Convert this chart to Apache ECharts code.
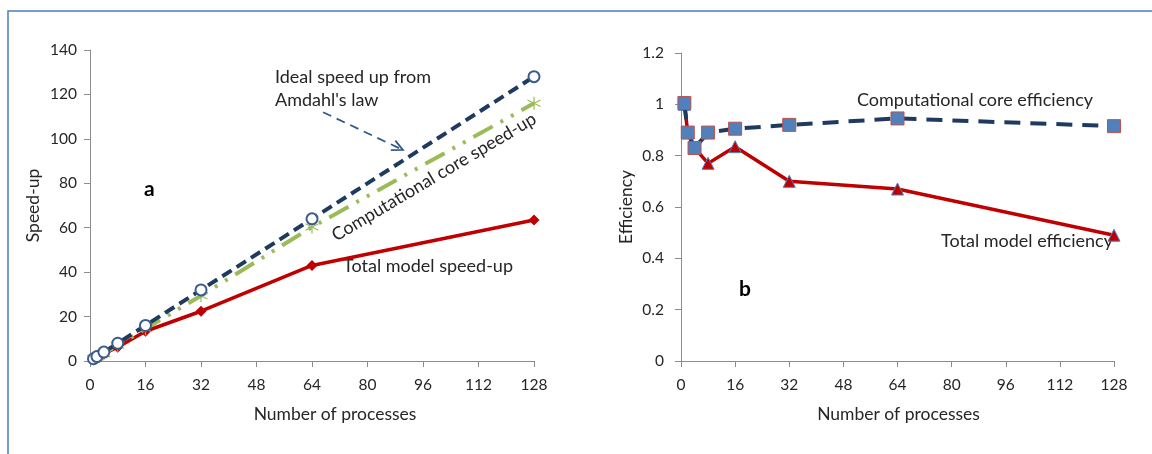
<!DOCTYPE html>
<html><head><meta charset="utf-8">
<script src="https://cdn.jsdelivr.net/npm/echarts@6/dist/echarts.min.js"></script>
<style>html,body{margin:0;padding:0;background:#fff}#c{width:1152px;height:454px}</style>
</head><body><div id="c"></div>
<script>
// ---- data ----
const processes = [1, 2, 4, 8, 16, 32, 64, 128];
const idealSpeedup = [1, 2, 4, 8, 16, 32, 64, 128];
const coreSpeedup = [1, 1.78, 3.32, 7.1, 14.5, 29.4, 60.3, 116];
const totalSpeedup = [1, 1.78, 3.3, 6.2, 13.4, 22.4, 43, 63.5];
const coreEfficiency = [1.005, 0.89, 0.83, 0.89, 0.905, 0.92, 0.945, 0.915];
const totalEfficiency = [1.0, 0.89, 0.83, 0.77, 0.835, 0.70, 0.67, 0.49];
const xTicks = [0, 16, 32, 48, 64, 80, 96, 112, 128];

const pair = (xs, ys) => xs.map((x, i) => [x, ys[i]]);
const FONT = 'Lato';
const axisCol = '#8c8c8c';
const txtCol = '#262626';
const navy = '#1f3a5f';
const red = '#c00000';
const green = '#9bbb59';
const blue = '#4f81bd';

const asterisk = 'path://M0,-10L0,10M-8.7,-5L8.7,5M-8.7,5L8.7,-5';

function xAxis(idx, shift) {
  return {
    gridIndex: idx, type: 'value', min: 0, max: 128, interval: 16,
    name: 'Number of processes', nameLocation: 'middle', nameGap: 44,
    nameTextStyle: {fontFamily: FONT, fontSize: 17.5, color: txtCol, padding: [0, 0, 0, shift]},
    axisLine: {lineStyle: {color: axisCol, width: 1}},
    axisTick: {show: true, length: 6, lineStyle: {color: axisCol}},
    axisLabel: {fontFamily: FONT, fontSize: 15.5, color: txtCol, margin: 16,
      formatter: v => xTicks.includes(v) ? String(v) : ''},
    splitLine: {show: false}
  };
}

const chart = echarts.init(document.getElementById('c'), null, {renderer: 'canvas'});
chart.setOption({
  animation: false,
  backgroundColor: '#fff',
  grid: [
    {left: 90, right: 618, top: 50, bottom: 93},
    {left: 681, right: 38, top: 53, bottom: 93}
  ],
  xAxis: [xAxis(0, 46), xAxis(1, 2)],
  yAxis: [
    {gridIndex: 0, type: 'value', min: 0, max: 140, interval: 20,
     name: 'Speed-up', nameLocation: 'middle', nameGap: 48,
     nameTextStyle: {fontFamily: FONT, fontSize: 17.5, color: txtCol},
     axisLine: {show: true, lineStyle: {color: axisCol}},
     axisTick: {show: true, length: 6, lineStyle: {color: axisCol}},
     axisLabel: {fontFamily: FONT, fontSize: 15.5, color: txtCol, margin: 13},
     splitLine: {show: false}},
    {gridIndex: 1, type: 'value', min: 0, max: 1.2, interval: 0.2,
     name: 'Efficiency', nameLocation: 'middle', nameGap: 46,
     nameTextStyle: {fontFamily: FONT, fontSize: 17.5, color: txtCol},
     axisLine: {show: true, lineStyle: {color: axisCol}},
     axisTick: {show: true, length: 6, lineStyle: {color: axisCol}},
     axisLabel: {fontFamily: FONT, fontSize: 15.5, color: txtCol, margin: 17,
       formatter: v => String(Math.round(v * 10) / 10)},
     splitLine: {show: false}}
  ],
  series: [
    {type: 'line', xAxisIndex: 0, yAxisIndex: 0, data: pair(processes, totalSpeedup),
     symbol: 'diamond', symbolSize: 11, z: 3,
     lineStyle: {color: red, width: 3.5}, itemStyle: {color: red}},
    {type: 'line', xAxisIndex: 0, yAxisIndex: 0, data: pair(processes, coreSpeedup),
     symbol: asterisk, symbolSize: 13, z: 4,
     lineStyle: {color: green, width: 4, type: [22, 9, 3, 9, 3, 9]},
     itemStyle: {color: 'rgba(0,0,0,0)', borderColor: green, borderWidth: 1.2}},
    {type: 'line', xAxisIndex: 0, yAxisIndex: 0, data: pair(processes, idealSpeedup),
     symbol: 'emptyCircle', symbolSize: 11, z: 5,
     lineStyle: {color: navy, width: 4, type: [11, 6]},
     itemStyle: {color: '#3b5b8c', borderColor: '#3b5b8c', borderWidth: 1}},
    {type: 'line', xAxisIndex: 1, yAxisIndex: 1, data: pair(processes, totalEfficiency),
     symbol: 'triangle', symbolSize: 12, z: 3,
     lineStyle: {color: red, width: 3.5},
     itemStyle: {color: red, borderColor: blue, borderWidth: 1}},
    {type: 'line', xAxisIndex: 1, yAxisIndex: 1, data: pair(processes, coreEfficiency),
     symbol: 'rect', symbolSize: 13, z: 4,
     lineStyle: {color: navy, width: 4, type: [16, 10]},
     itemStyle: {color: blue, borderColor: '#c0504d', borderWidth: 1}}
  ]
});

// annotations
const p1 = chart.convertToPixel({gridIndex: 0}, [67.2, 112]);
const p2 = chart.convertToPixel({gridIndex: 0}, [90.2, 95]);
const ang = Math.atan2(p2[1] - p1[1], p2[0] - p1[0]);
const ah = 12, aw = 0.45;
const arrowHead = [
  [p2[0] - ah * Math.cos(ang - aw), p2[1] - ah * Math.sin(ang - aw)],
  p2,
  [p2[0] - ah * Math.cos(ang + aw), p2[1] - ah * Math.sin(ang + aw)]
];
const tStyle = (s, extra) => Object.assign({fontFamily: FONT, fontSize: 18, fill: txtCol}, s, extra || {});

chart.setOption({
  graphic: [
    {type: 'rect', shape: {x: 8, y: 11, width: 1400, height: 600}, silent: true,
     style: {fill: 'none', stroke: '#4a7ebb', lineWidth: 1.5}},
    {type: 'line', shape: {x1: p1[0], y1: p1[1], x2: p2[0], y2: p2[1]},
     style: {stroke: '#2e5a8e', lineWidth: 1.8, lineDash: [9, 6]}},
    {type: 'polyline', shape: {points: arrowHead},
     style: {stroke: '#2e5a8e', lineWidth: 1.8, fill: 'none'}},
    {type: 'text', x: 275, y: 68, style: tStyle({text: 'Ideal speed up from'})},
    {type: 'text', x: 275, y: 91, style: tStyle({text: "Amdahl's law"})},
    {type: 'text', x: 434, y: 177, rotation: 0.535,
     style: tStyle({text: 'Computational core speed-up', align: 'center', verticalAlign: 'middle'})},
    {type: 'text', x: 343, y: 257, style: tStyle({text: 'Total model speed-up'})},
    {type: 'text', x: 144, y: 179, style: tStyle({text: 'a', fontSize: 21, fontWeight: 'bold', fill: '#000'})},
    {type: 'text', x: 857, y: 91, style: tStyle({text: 'Computational core efficiency'})},
    {type: 'text', x: 941, y: 232, style: tStyle({text: 'Total model efficiency'})},
    {type: 'text', x: 739, y: 279, style: tStyle({text: 'b', fontSize: 21, fontWeight: 'bold', fill: '#000'})}
  ]
});
</script></body></html>
